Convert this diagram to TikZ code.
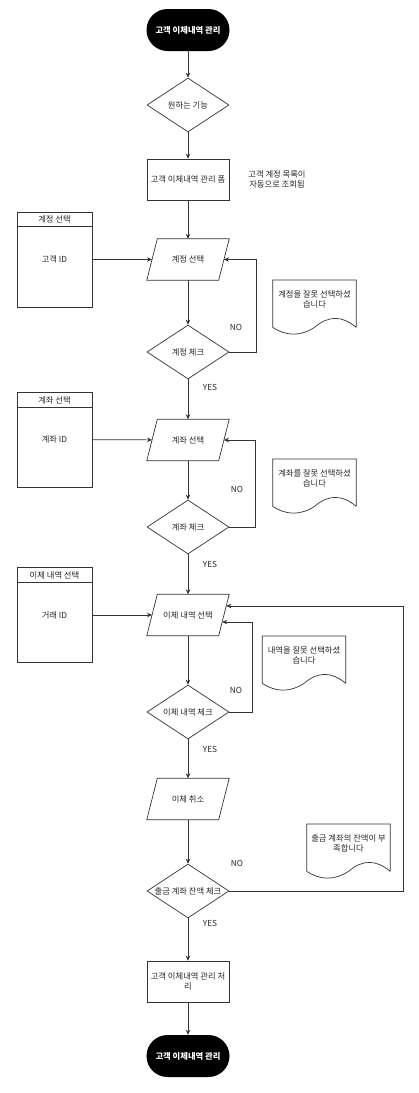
\documentclass[tikz,border=0pt]{standalone}
\usepackage{fontspec}
\setmainfont{Noto Sans CJK KR}
\usetikzlibrary{shapes.geometric,arrows.meta,calc}

% document symbol with a wavy bottom edge, drawn around an invisible node
\newcommand\wavydoc[1]{%
  \draw[line] (#1.south east) -- (#1.north east) -- (#1.north west) -- (#1.south west)
    .. controls ($(#1.south west)+(13.8,9)$) and ($(#1.south west)+(27.7,9)$) .. (#1.south)
    .. controls ($(#1.south)+(13.8,-12)$) and ($(#1.south)+(27.7,-12)$) .. (#1.south east);}
% slanted data box drawn around an invisible node (edges meet the node at mid height)
\newcommand\slantbox[1]{%
  \draw[line] ($(#1.north west)+(5.25,0)$) -- ($(#1.north east)+(5.25,0)$)
    -- ($(#1.south east)+(-5.25,0)$) -- ($(#1.south west)+(-5.25,0)$) -- cycle;}

\begin{document}
\begin{tikzpicture}[x=1pt,y=-1pt,
  line/.style={draw=black!80, line width=0.7pt},
  arr/.style={line, -{Stealth[length=5pt,width=4.5pt]}},
  txt/.style={font=\fontsize{8.3}{9.8}\selectfont, text=black!85, inner sep=0pt, align=center},
  term/.style={fill=black, rounded corners=21pt, minimum width=83pt, minimum height=42pt,
               inner sep=0pt, font=\fontsize{8.3}{9.8}\selectfont\bfseries, text=white},
  proc/.style={line, rectangle, minimum width=82pt, minimum height=41pt, txt},
  dec/.style={line, diamond, minimum width=82pt, minimum height=54pt, inner sep=0pt},
  io/.style={rectangle, minimum width=71.5pt, minimum height=41pt, txt},
  lane/.style={line, rectangle, minimum width=75pt, minimum height=95pt, inner sep=0pt},
  docbox/.style={minimum width=83pt, minimum height=47pt, inner sep=0pt, anchor=north},
  lbl/.style={txt}
]
\useasboundingbox (0,0) rectangle (418,1093);

% main flow
\node[term] (t1) at (188,30) {고객 이체내역 관리};
\node[dec, label={[txt]center:원하는 기능}] (d0) at (188,105) {};
\node[proc] (r0) at (188,179.5) {고객 이체내역 관리 폼};
\node[txt] (note) at (277,179.5) {고객 계정 목록이\\자동으로 조회됨};

% account selection
\node[lane] (l1) at (54.5,259.5) {};
\draw[line] ($(l1.north west)+(0,15)$) -- ($(l1.north east)+(0,15)$);
\node[txt] (l1t) at (54.5,219.5) {계정 선택};
\node[txt] (l1b) at (l1) {고객 ID};
\node[io] (p1) at (188,259.5) {계정 선택};
\slantbox{p1}
\node[dec, label={[txt]center:계정 체크}] (d1) at (188,352) {};
\node[docbox] (doc1) at (314.5,280) {};
\wavydoc{doc1}
\node[txt] (doc1t) at (314.5,299) {계정을 잘못 선택하셨\\습니다};

% bank account selection
\node[lane] (l2) at (54.5,439.5) {};
\draw[line] ($(l2.north west)+(0,16)$) -- ($(l2.north east)+(0,16)$);
\node[txt] (l2t) at (54.5,400) {계좌 선택};
\node[txt] (l2b) at (l2) {계좌 ID};
\node[io] (p2) at (188,440) {계좌 선택};
\slantbox{p2}
\node[dec, label={[txt]center:계좌 체크}] (d2) at (188,527) {};
\node[docbox] (doc2) at (314.5,459) {};
\wavydoc{doc2}
\node[txt] (doc2t) at (314.5,478) {계좌를 잘못 선택하셨\\습니다};

% transfer history selection
\node[lane] (l3) at (54.5,615) {};
\draw[line] ($(l3.north west)+(0,15)$) -- ($(l3.north east)+(0,15)$);
\node[txt] (l3t) at (54.5,575.5) {이체 내역 선택};
\node[txt] (l3b) at (l3) {거래 ID};
\node[io] (p3) at (188,615) {이체 내역 선택};
\slantbox{p3}
\node[dec, label={[txt]center:이체 내역 체크}] (d3) at (188,712) {};
\node[docbox] (doc3) at (304,636) {};
\wavydoc{doc3}
\node[txt] (doc3t) at (304,655) {내역을 잘못 선택하셨\\습니다};

% cancellation and balance check
\node[io] (p4) at (188,799) {이체 취소};
\slantbox{p4}
\node[dec, label={[txt]center:출금 계좌 잔액 체크}] (d4) at (188,891) {};
\node[docbox] (doc4) at (348.5,824) {};
\wavydoc{doc4}
\node[txt] (doc4t) at (348.5,843) {출금 계좌의 잔액이 부\\족합니다};

\node[proc] (r1) at (188,981.5) {고객 이체내역 관리 처\\리};
\node[term] (t2) at (188,1056) {고객 이체내역 관리};

% vertical connectors
\draw[arr] (t1) -- (d0);
\draw[arr] (d0) -- (r0);
\draw[arr] (r0) -- (p1);
\draw[arr] (p1) -- (d1);
\draw[arr] (d1) -- (p2);
\draw[arr] (p2) -- (d2);
\draw[arr] (d2) -- (p3);
\draw[arr] (p3) -- (d3);
\draw[arr] (d3) -- (p4);
\draw[arr] (p4) -- (d4);
\draw[arr] (d4) -- (r1);
\draw[arr] (r1) -- (t2);

% inputs from the side panels
\draw[arr] (l1) -- (p1);
\draw[arr] (l2) -- (p2);
\draw[arr] (l3) -- (p3);

% retry loops
\draw[arr] (d1.east) -- ++(27,0) |- (p1.east);
\draw[arr] (d2.east) -- ++(26,0) |- (p2.east);
\draw[arr] (d3.east) -- ++(23,0) |- ($(p3.east)+(-1.8,7)$);
\draw[arr] (d4.east) -- ++(174,0) |- ($(p3.east)+(2.4,-9)$);

% branch labels
\node[lbl] (no1) at (236,327) {NO};
\node[lbl] (yes1) at (210,387) {YES};
\node[lbl] (no2) at (237,489) {NO};
\node[lbl] (yes2) at (210,564) {YES};
\node[lbl] (no3) at (236,690) {NO};
\node[lbl] (yes3) at (210,749) {YES};
\node[lbl] (no4) at (237,863) {NO};
\node[lbl] (yes4) at (210,923) {YES};
\end{tikzpicture}
\end{document}
